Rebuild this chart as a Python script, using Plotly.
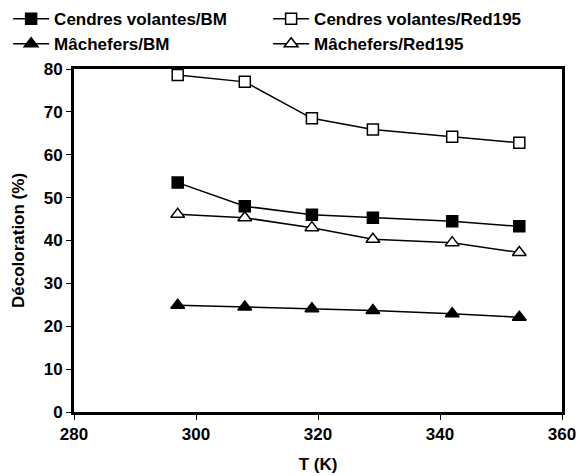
import plotly.graph_objects as go

T = [297, 308, 319, 329, 342, 353]
cv_bm = [53.5, 48.0, 46.0, 45.3, 44.5, 43.3]
cv_red = [78.6, 77.0, 68.5, 65.9, 64.2, 62.8]
m_bm = [24.9, 24.5, 24.1, 23.7, 22.9, 22.1]
m_red = [46.1, 45.3, 43.0, 40.3, 39.5, 37.2]

FONT = "Arial, 'Liberation Sans', sans-serif"

series = [
    ("Cendres volantes/BM", cv_bm, "square", "black", 11),
    ("Cendres volantes/Red195", cv_red, "square", "white", 11),
    ("Mâchefers/BM", m_bm, "triangle-up", "black", 12),
    ("Mâchefers/Red195", m_red, "triangle-up", "white", 12),
]

fig = go.Figure()
for name, vals, sym, fill, size in series:
    fig.add_trace(go.Scatter(
        x=T, y=vals, name=name, mode="lines+markers",
        line=dict(color="black", width=1.5),
        marker=dict(symbol=sym, size=size, color=fill,
                    line=dict(color="black", width=1.5)),
    ))

axis_common = dict(
    showline=True, linecolor="black", linewidth=3, mirror=True,
    ticks="outside", ticklen=5, tickwidth=1, tickcolor="black",
    showgrid=False, zeroline=False,
    tickfont=dict(family=FONT, size=17, color="black", weight="bold"),
)

fig.update_layout(
    width=579, height=476,
    margin=dict(l=74, r=17, t=69, b=64, autoexpand=False),
    paper_bgcolor="white", plot_bgcolor="white",
    font=dict(family=FONT, color="black"),
    xaxis=dict(range=[280, 360], dtick=20,
               title=dict(text="T (K)",
                          font=dict(family=FONT, size=17, color="black", weight="bold")),
               **axis_common),
    yaxis=dict(range=[0, 80], dtick=10,
               title=dict(text="Décoloration (%)",
                          font=dict(family=FONT, size=17, color="black", weight="bold")),
               **axis_common),
    legend=dict(orientation="h", x=-0.135, y=1.198, xref="paper", yref="paper",
                xanchor="left", yanchor="top",
                entrywidth=209, entrywidthmode="pixels",
                font=dict(family=FONT, size=17, color="black", weight="bold"),
                bgcolor="rgba(0,0,0,0)", tracegroupgap=0, itemwidth=36),
    showlegend=True,
)

fig.write_html(
    "out.html",
    config={"displayModeBar": False},
    post_script="document.body.style.margin='0px';document.body.style.overflow='hidden';",
)
